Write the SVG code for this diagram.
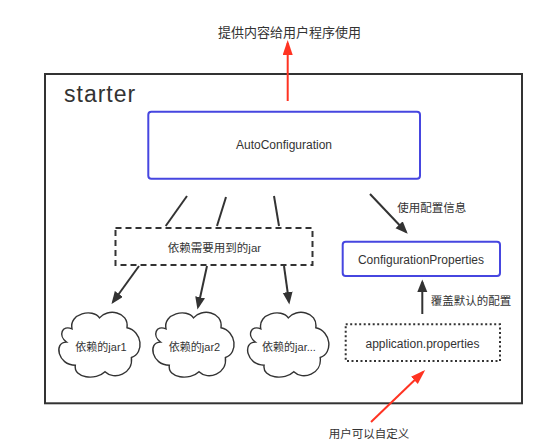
<svg xmlns="http://www.w3.org/2000/svg" xmlns:xlink="http://www.w3.org/1999/xlink" width="540" height="446" viewBox="0 0 540 446">
<style>
text{font-family:"Liberation Sans","Noto Sans CJK SC",sans-serif;fill:#333}
.c{text-anchor:middle}
.blue{fill:#fff;stroke:#4646e0;stroke-width:2}
.dk{stroke:#333;stroke-width:2;fill:none}
.red{stroke:#ff3322;stroke-width:2;fill:none}
.cloud{fill:#fff;stroke:#333;stroke-width:1.3}
</style>
<defs>
<marker id="ah" markerUnits="userSpaceOnUse" markerWidth="14" markerHeight="11" refX="10" refY="5" orient="auto">
<path d="M0,0 L12.5,5 L0,10 z" fill="#333"/>
</marker>
<marker id="ahr" markerUnits="userSpaceOnUse" markerWidth="16" markerHeight="11" refX="12" refY="5" orient="auto">
<path d="M0,0 L15,5 L0,10 z" fill="#ff3322"/>
</marker>
<path id="cl" d="M15,19 C12,5 34,0 40,9 C47,0 67,3 65,18 C79,21 81,41 69,45 C71,60 53,66 45,58 C37,66 16,64 18,52 C2,52 -2,31 10,31 C2,25 6,15 15,19 Z"/>
</defs>
<rect width="540" height="446" fill="#fff"/>
<g id="starter">
<rect x="45" y="74" width="477" height="329.3" fill="none" stroke="#333" stroke-width="2"/>
<text x="64" y="102" font-size="23" letter-spacing="1">starter</text>
</g>
<g id="user-program-label">
<text class="c" x="289.5" y="37" font-size="13">提供内容给用户程序使用</text>
</g>
<g id="autoconfiguration">
<rect class="blue" x="148.3" y="111.7" width="271.7" height="67" rx="3"/>
<text class="c" x="284" y="149" font-size="12">AutoConfiguration</text>
</g>
<g id="deps">
<rect x="115.5" y="228" width="197" height="37" fill="#fff" stroke="#333" stroke-width="2" stroke-dasharray="6 4"/>
<text class="c" x="214.5" y="251.5" font-size="11.5">依赖需要用到的jar</text>
</g>
<g id="jar1">
<use xlink:href="#cl" class="cloud" transform="translate(55.5,308) scale(1.1)"/>
<text class="c" x="101" y="350.7" font-size="11">依赖的jar1</text>
</g>
<g id="jar2">
<use xlink:href="#cl" class="cloud" transform="translate(149.5,308) scale(1.1)"/>
<text class="c" x="194.5" y="350.7" font-size="11">依赖的jar2</text>
</g>
<g id="jar3">
<use xlink:href="#cl" class="cloud" transform="translate(244.3,308) scale(1.1)"/>
<text class="c" x="289" y="350.7" font-size="11">依赖的jar...</text>
</g>
<g id="configurationproperties">
<rect class="blue" x="342.7" y="241.7" width="157.3" height="34.3" rx="3"/>
<text class="c" x="421" y="264" font-size="12">ConfigurationProperties</text>
</g>
<g id="application-properties">
<rect x="345.7" y="324.3" width="154.3" height="36.7" fill="#fff" stroke="#333" stroke-width="2" stroke-dasharray="2 2.5"/>
<text class="c" x="422.5" y="347.5" font-size="12">application.properties</text>
</g>
<g id="connectors">
<line class="red" x1="287.7" y1="101" x2="287.7" y2="43" marker-end="url(#ahr)"/>
<line class="dk" x1="187" y1="196" x2="165.7" y2="226"/>
<line class="dk" x1="226" y1="197" x2="217" y2="226"/>
<line class="dk" x1="274" y1="196" x2="279" y2="226"/>
<line class="dk" x1="139" y1="266" x2="113" y2="302" marker-end="url(#ah)"/>
<line class="dk" x1="207" y1="266" x2="198" y2="307" marker-end="url(#ah)"/>
<line class="dk" x1="284" y1="266" x2="289" y2="302" marker-end="url(#ah)"/>
<line class="dk" x1="370" y1="194" x2="406" y2="232" marker-end="url(#ah)"/>
<line class="dk" x1="422.3" y1="314" x2="422.3" y2="282" marker-end="url(#ah)"/>
<line class="red" x1="371" y1="422" x2="423" y2="372" marker-end="url(#ahr)"/>
<text x="397.3" y="211.5" font-size="11.5">使用配置信息</text>
<text x="430.7" y="305" font-size="11.5">覆盖默认的配置</text>
<text class="c" x="369" y="438" font-size="11.5">用户可以自定义</text>
</g>
</svg>
